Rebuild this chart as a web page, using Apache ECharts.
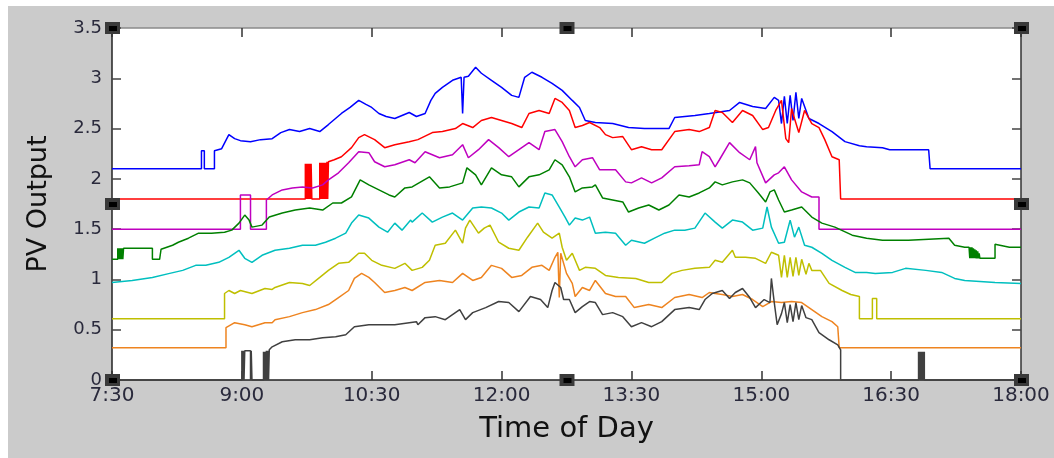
<!DOCTYPE html>
<html>
<head>
<meta charset="utf-8">
<script src="https://cdn.jsdelivr.net/npm/echarts@6/dist/echarts.min.js"></script>
<style>
  html, body { margin: 0; padding: 0; background: #ffffff; }
  #bg { position: absolute; left: 8px; top: 6px; width: 1046px; height: 452px; background: #cbcbcb; }
  #chart { position: absolute; left: 0; top: 0; width: 1054px; height: 458px; }
</style>
</head>
<body>
<div id="bg"></div>
<div id="chart"></div>
<script>
// Time is in minutes after midnight; values are PV output.
const xTickLabels = ['7:30', '9:00', '10:30', '12:00', '13:30', '15:00', '16:30', '18:00'];
const yTickLabels = ['0', '0.5', '1', '1.5', '2', '2.5', '3', '3.5'];

const blue = [[450,2.10],[512,2.10],[512,2.28],[514,2.28],[514,2.10],[521,2.10],[521,2.28],[526,2.30],[531,2.44],[535,2.40],[539,2.38],[546,2.37],[553,2.39],[561,2.40],[567,2.46],[573,2.49],[580,2.47],[587,2.50],[594,2.47],[600,2.54],[609,2.65],[615,2.71],[621,2.78],[626,2.74],[630,2.71],[635,2.65],[640,2.62],[646,2.60],[651,2.63],[656,2.66],[661,2.62],[667,2.65],[671,2.78],[674,2.85],[679,2.91],[686,2.98],[692,3.01],[693,2.65],[694,3.01],[697,3.02],[702,3.11],[706,3.05],[713,2.98],[720,2.91],[727,2.83],[732,2.81],[736,3.01],[741,3.06],[748,3.01],[755,2.95],[762,2.88],[769,2.78],[774,2.71],[778,2.58],[785,2.56],[797,2.55],[808,2.51],[819,2.50],[836,2.50],[840,2.61],[854,2.63],[864,2.65],[878,2.68],[885,2.76],[894,2.72],[903,2.70],[909,2.81],[912,2.78],[914,2.55],[916,2.82],[918,2.55],[920,2.83],[922,2.58],[924,2.86],[926,2.60],[928,2.80],[933,2.60],[940,2.55],[949,2.47],[958,2.37],[968,2.33],[973,2.32],[984,2.31],[989,2.29],[1016,2.29],[1017,2.10],[1080,2.10]];

const red = [[450,1.80],[584,1.80],[584,2.15],[584.5,1.80],[585,2.15],[585.5,1.80],[586,2.15],[586.5,1.80],[587,2.15],[587.5,1.80],[588,2.15],[588.5,1.80],[594,1.80],[594,2.16],[594.5,1.80],[595,2.16],[595.5,1.80],[596,2.16],[596.5,1.80],[597,2.16],[597.5,1.80],[598,2.16],[598.5,1.80],[599,2.17],[599.5,1.80],[600,2.17],[604,2.19],[609,2.22],[616,2.31],[621,2.41],[625,2.44],[632,2.39],[639,2.31],[646,2.34],[656,2.37],[662,2.39],[672,2.46],[679,2.47],[688,2.50],[693,2.55],[700,2.51],[706,2.58],[713,2.61],[720,2.58],[727,2.55],[734,2.51],[739,2.65],[746,2.68],[753,2.65],[757,2.80],[762,2.76],[767,2.68],[771,2.51],[776,2.53],[781,2.56],[788,2.51],[792,2.44],[797,2.41],[804,2.42],[810,2.29],[817,2.32],[824,2.29],[831,2.29],[840,2.47],[850,2.49],[857,2.47],[864,2.51],[868,2.68],[873,2.66],[880,2.56],[887,2.68],[894,2.63],[901,2.49],[905,2.51],[910,2.68],[914,2.78],[917,2.40],[919,2.36],[921,2.70],[923,2.60],[926,2.46],[930,2.68],[935,2.55],[940,2.51],[944,2.39],[949,2.22],[954,2.19],[955,1.80],[1080,1.80]];

const magenta = [[450,1.50],[539,1.50],[539,1.84],[546,1.84],[546,1.50],[557,1.50],[557,1.79],[561,1.84],[568,1.89],[575,1.91],[582,1.92],[589,1.91],[596,1.94],[600,1.99],[607,2.06],[614,2.16],[621,2.27],[628,2.26],[632,2.17],[639,2.12],[646,2.14],[656,2.19],[660,2.16],[667,2.27],[677,2.21],[686,2.24],[693,2.34],[697,2.21],[704,2.29],[711,2.39],[718,2.31],[725,2.22],[732,2.29],[739,2.36],[746,2.29],[750,2.47],[757,2.49],[762,2.37],[767,2.22],[771,2.12],[776,2.19],[783,2.21],[788,2.09],[799,2.09],[806,1.97],[810,1.96],[817,2.01],[824,1.96],[831,2.01],[840,2.12],[850,2.13],[857,2.14],[859,2.27],[864,2.22],[868,2.12],[871,2.19],[878,2.36],[885,2.26],[892,2.19],[896,2.32],[897,2.16],[903,1.96],[909,2.04],[912,2.06],[916,2.12],[921,1.99],[928,1.87],[935,1.82],[940,1.82],[940,1.50],[1080,1.50]];

const green = [[450,1.20],[454,1.20],[454,1.31],[454.5,1.20],[455,1.31],[455.5,1.20],[456,1.31],[456.5,1.20],[457,1.31],[457.5,1.20],[458,1.31],[478,1.31],[478,1.20],[483,1.20],[484,1.30],[485,1.31],[492,1.34],[496,1.37],[503,1.41],[510,1.46],[519,1.46],[528,1.47],[533,1.49],[538,1.56],[542,1.64],[545,1.59],[547,1.52],[554,1.54],[559,1.62],[568,1.66],[577,1.69],[587,1.71],[596,1.69],[603,1.76],[609,1.76],[616,1.82],[622,1.99],[628,1.94],[635,1.89],[642,1.84],[646,1.82],[653,1.91],[658,1.92],[670,2.02],[677,1.91],[684,1.92],[693,1.96],[696,2.11],[702,2.04],[706,1.94],[713,2.11],[720,2.04],[727,2.02],[732,1.92],[739,2.02],[746,2.04],[753,2.09],[757,2.19],[762,2.14],[767,2.02],[771,1.87],[776,1.91],[783,1.92],[785,1.94],[790,1.81],[797,1.79],[804,1.77],[808,1.67],[815,1.71],[822,1.74],[829,1.69],[836,1.74],[843,1.84],[850,1.82],[857,1.86],[864,1.91],[868,1.97],[873,1.94],[880,1.97],[887,1.99],[892,1.96],[898,1.86],[903,1.77],[906,1.87],[909,1.89],[912,1.79],[916,1.67],[921,1.69],[928,1.72],[935,1.62],[942,1.56],[951,1.52],[963,1.44],[973,1.41],[984,1.39],[1002,1.39],[1030,1.41],[1034,1.34],[1041,1.32],[1044,1.32],[1044.5,1.21],[1045,1.32],[1045.5,1.21],[1046,1.32],[1046.5,1.21],[1047,1.31],[1047.5,1.21],[1048,1.30],[1048.5,1.21],[1049,1.29],[1049.5,1.21],[1050,1.28],[1050.5,1.21],[1051,1.26],[1051.5,1.21],[1062,1.21],[1062,1.35],[1072,1.32],[1080,1.32]];

const cyan = [[450,0.97],[464,0.99],[478,1.02],[490,1.06],[499,1.09],[508,1.14],[515,1.14],[524,1.17],[531,1.22],[538,1.29],[542,1.21],[547,1.17],[554,1.24],[563,1.29],[573,1.31],[582,1.34],[591,1.34],[598,1.37],[605,1.41],[612,1.46],[616,1.56],[621,1.64],[628,1.61],[635,1.52],[641,1.47],[646,1.56],[651,1.49],[657,1.59],[658,1.57],[665,1.66],[672,1.57],[679,1.62],[686,1.66],[693,1.59],[700,1.71],[706,1.72],[713,1.71],[720,1.66],[725,1.59],[732,1.67],[739,1.72],[746,1.71],[750,1.86],[755,1.84],[760,1.72],[764,1.62],[767,1.54],[771,1.61],[776,1.59],[781,1.62],[785,1.46],[792,1.47],[799,1.46],[806,1.34],[810,1.39],[819,1.36],[826,1.41],[833,1.46],[840,1.49],[847,1.49],[854,1.51],[861,1.66],[868,1.57],[873,1.51],[880,1.59],[887,1.57],[894,1.49],[901,1.51],[904,1.72],[907,1.52],[912,1.36],[916,1.37],[920,1.59],[923,1.42],[926,1.52],[930,1.34],[935,1.32],[942,1.26],[949,1.19],[958,1.12],[965,1.07],[973,1.07],[979,1.06],[991,1.07],[1000,1.11],[1014,1.09],[1025,1.07],[1034,1.01],[1041,0.99],[1062,0.97],[1080,0.96]];

const yellow = [[450,0.61],[528,0.61],[528,0.86],[531,0.89],[535,0.86],[539,0.89],[547,0.86],[556,0.91],[561,0.90],[563,0.92],[573,0.97],[582,0.96],[587,0.94],[594,1.02],[600,1.09],[607,1.16],[614,1.17],[621,1.26],[625,1.26],[630,1.19],[637,1.14],[646,1.11],[653,1.16],[658,1.09],[665,1.12],[670,1.19],[674,1.34],[681,1.36],[688,1.49],[693,1.36],[695,1.51],[698,1.59],[704,1.46],[708,1.51],[712,1.54],[718,1.37],[725,1.31],[732,1.29],[738,1.42],[745,1.56],[749,1.47],[755,1.41],[760,1.46],[762,1.32],[765,1.19],[769,1.26],[774,1.09],[778,1.12],[785,1.11],[792,1.04],[801,1.02],[813,1.01],[822,0.97],[831,0.97],[838,1.06],[845,1.09],[854,1.11],[864,1.12],[868,1.19],[873,1.17],[880,1.29],[882,1.22],[889,1.22],[896,1.21],[903,1.16],[907,1.27],[912,1.24],[914,1.02],[916,1.24],[918,1.02],[920,1.22],[922,1.03],[924,1.22],[926,1.04],[928,1.20],[931,1.05],[933,1.16],[935,1.09],[941,1.09],[947,0.96],[956,0.89],[962,0.85],[968,0.83],[968,0.61],[977,0.61],[977,0.81],[980,0.81],[980,0.61],[1080,0.61]];

const orange = [[450,0.32],[529,0.32],[529,0.52],[535,0.57],[542,0.55],[547,0.53],[556,0.57],[561,0.57],[563,0.60],[573,0.63],[582,0.67],[591,0.70],[600,0.75],[607,0.82],[614,0.89],[618,1.01],[623,1.06],[628,1.02],[632,0.97],[639,0.87],[646,0.89],[653,0.92],[658,0.89],[667,0.97],[677,0.99],[686,0.97],[693,1.06],[700,0.99],[706,1.02],[713,1.14],[720,1.11],[727,1.02],[734,1.04],[741,1.12],[748,1.14],[753,1.09],[757,1.22],[759,1.27],[760,0.82],[761,1.26],[762,1.26],[765,1.06],[769,0.96],[771,0.83],[776,0.92],[781,0.89],[785,0.99],[792,0.86],[799,0.83],[806,0.83],[812,0.72],[822,0.75],[831,0.72],[840,0.82],[850,0.85],[859,0.82],[864,0.87],[868,0.86],[873,0.85],[880,0.83],[887,0.85],[894,0.80],[901,0.73],[907,0.78],[914,0.77],[921,0.78],[928,0.77],[935,0.70],[942,0.63],[949,0.58],[953,0.53],[954,0.32],[1080,0.32]];

const black = [[450,0],[540,0],[540,0.29],[540.5,0],[541,0.29],[541.5,0],[542,0.29],[546,0.29],[546,0],[546.5,0.29],[547,0],[555,0],[555,0.28],[555.5,0],[556,0.28],[556.5,0],[557,0.29],[557.5,0],[558,0.29],[558.5,0],[559,0.30],[561,0.33],[568,0.38],[577,0.40],[587,0.40],[596,0.42],[605,0.43],[612,0.45],[618,0.53],[628,0.55],[637,0.55],[646,0.55],[656,0.57],[661,0.58],[662,0.55],[667,0.62],[674,0.63],[681,0.60],[691,0.70],[695,0.60],[700,0.67],[709,0.72],[718,0.78],[725,0.77],[732,0.68],[740,0.83],[747,0.80],[752,0.72],[755,0.89],[757,0.97],[761,0.92],[763,0.80],[767,0.80],[771,0.67],[776,0.73],[781,0.78],[785,0.77],[790,0.65],[797,0.67],[804,0.63],[810,0.53],[817,0.57],[824,0.53],[831,0.58],[840,0.70],[850,0.72],[857,0.70],[861,0.80],[866,0.86],[873,0.89],[878,0.81],[882,0.87],[887,0.91],[892,0.82],[896,0.72],[902,0.80],[906,0.77],[907,1.01],[909,0.77],[911,0.55],[914,0.66],[916,0.77],[918,0.57],[920,0.75],[922,0.58],[924,0.77],[926,0.60],[928,0.74],[931,0.62],[935,0.60],[940,0.47],[947,0.40],[953,0.35],[955,0.30],[955,0],[1009,0],[1009,0.28],[1009.5,0],[1010,0.28],[1010.5,0],[1011,0.28],[1011.5,0],[1012,0.28],[1012.5,0],[1013,0.28],[1013,0],[1080,0]];

const seriesList = [
  { name: 'S1', data: blue, color: '#0000ff' },
  { name: 'S2', data: red, color: '#ff0000' },
  { name: 'S3', data: magenta, color: '#bf00bf' },
  { name: 'S4', data: green, color: '#008000' },
  { name: 'S5', data: cyan, color: '#00bfbf' },
  { name: 'S6', data: yellow, color: '#bfbf00' },
  { name: 'S7', data: orange, color: '#ee8420' },
  { name: 'S8', data: black, color: '#404040' }
];

const X_MIN = 450, X_MAX = 1080, X_STEP = 90;
const Y_MIN = 0, Y_MAX = 3.5, Y_STEP = 0.5;

const chart = echarts.init(document.getElementById('chart'), null, { renderer: 'canvas' });

const tickFont = 'DejaVu Sans';
const xLabelFmt = v => xTickLabels[Math.round((v - X_MIN) / X_STEP)] || '';
const yLabelFmt = v => yTickLabels[Math.round((v - Y_MIN) / Y_STEP)] || '';

chart.setOption({
  animation: false,
  backgroundColor: 'transparent',
  grid: { left: 112, right: 33, top: 28, bottom: 78, show: true, backgroundColor: '#ffffff', borderWidth: 0 },
  xAxis: [
    {
      type: 'value', min: X_MIN, max: X_MAX, interval: X_STEP, position: 'bottom',
      name: 'Time of Day', nameLocation: 'middle', nameGap: 35,
      nameTextStyle: { fontFamily: tickFont, fontSize: 29, color: '#111111' },
      axisLine: { show: true, onZero: false, lineStyle: { color: '#222222', width: 1.5 } },
      axisTick: { show: true, inside: true, length: 9, lineStyle: { color: '#333333', width: 1.5 } },
      axisLabel: { show: true, formatter: xLabelFmt, margin: 6, fontFamily: tickFont, fontSize: 20, color: '#2a2a3c' },
      splitLine: { show: false }
    },
    {
      type: 'value', min: X_MIN, max: X_MAX, interval: X_STEP, position: 'top',
      axisLine: { show: true, onZero: false, lineStyle: { color: '#8a8a8a', width: 1.5 } },
      axisTick: { show: true, inside: true, length: 9, lineStyle: { color: '#333333', width: 1.5 } },
      axisLabel: { show: false },
      splitLine: { show: false }
    }
  ],
  yAxis: [
    {
      type: 'value', min: Y_MIN, max: Y_MAX, interval: Y_STEP, position: 'left',
      name: 'PV Output', nameLocation: 'middle', nameGap: 60, nameRotate: 90,
      nameTextStyle: { fontFamily: tickFont, fontSize: 27, color: '#111111' },
      axisLine: { show: true, onZero: false, lineStyle: { color: '#222222', width: 1.5 } },
      axisTick: { show: true, inside: true, length: 9, lineStyle: { color: '#444444', width: 1.5 } },
      axisLabel: { show: true, formatter: yLabelFmt, margin: 10, fontFamily: tickFont, fontSize: 18, color: '#2a2a3c' },
      splitLine: { show: false }
    },
    {
      type: 'value', min: Y_MIN, max: Y_MAX, interval: Y_STEP, position: 'right',
      axisLine: { show: true, onZero: false, lineStyle: { color: '#333333', width: 1.5 } },
      axisTick: { show: true, inside: true, length: 9, lineStyle: { color: '#444444', width: 1.5 } },
      axisLabel: { show: false },
      splitLine: { show: false }
    }
  ],
  series: seriesList.map(s => ({
    name: s.name,
    type: 'line',
    xAxisIndex: 0,
    yAxisIndex: 0,
    data: s.data,
    showSymbol: false,
    symbol: 'none',
    lineStyle: { color: s.color, width: 1.5 },
    itemStyle: { color: s.color },
    emphasis: { disabled: true }
  }))
});

// MATLAB-style selection handles at the axes corners and edge midpoints
const pTL = chart.convertToPixel({ gridIndex: 0 }, [X_MIN, Y_MAX]);
const pBR = chart.convertToPixel({ gridIndex: 0 }, [X_MAX, Y_MIN]);
const midX = (pTL[0] + pBR[0]) / 2, midY = (pTL[1] + pBR[1]) / 2;
const handlePts = [
  [pTL[0], pTL[1]], [midX, pTL[1]], [pBR[0], pTL[1]],
  [pTL[0], midY], [pBR[0], midY],
  [pTL[0], pBR[1]], [midX, pBR[1]], [pBR[0], pBR[1]]
];
const handles = [];
handlePts.forEach(p => {
  handles.push({ type: 'rect', z: 100, silent: true, shape: { x: p[0] - 7, y: p[1] - 6, width: 15, height: 12 }, style: { fill: '#3a3a3a' } });
  handles.push({ type: 'rect', z: 101, silent: true, shape: { x: p[0] - 3, y: p[1] - 2, width: 8, height: 5 }, style: { fill: '#000000' } });
});
chart.setOption({ graphic: handles });
</script>
</body>
</html>
